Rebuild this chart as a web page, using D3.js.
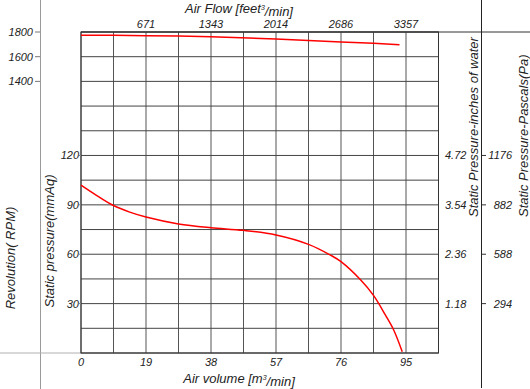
<!DOCTYPE html>
<html>
<head>
<meta charset="utf-8">
<script src="https://cdn.jsdelivr.net/npm/d3@7"></script>
<style>
  body { margin: 0; background: #fff; }
  svg { display: block; }
  text { font-family: "Liberation Sans", Arial, sans-serif; font-style: italic; fill: #222; }
</style>
</head>
<body>
<div id="chart"></div>
<script>
// air volume (m3/min) vs static pressure (mmAq)
var pressureCurve = [
  [0, 102], [4.75, 95.5], [9.5, 89.6], [14.25, 85.6], [19, 82.6], [28.5, 78.4],
  [38, 76.1], [47.5, 74.5], [57, 71.7], [66.5, 66], [72.9, 59.5], [76, 55.5],
  [81.7, 44.5], [85.5, 35], [89, 23], [91.4, 14], [93.9, 0.8]
];
// air volume (m3/min) vs revolution (RPM)
var rpmCurve = [
  [0, 1773], [9.5, 1773], [19, 1770], [28.5, 1768], [38, 1762], [57, 1743],
  [76, 1719], [85.5, 1708], [93.1, 1697]
];

var volumeTicks = [0, 19, 38, 57, 76, 95];
var flowLabels = ["671", "1343", "2014", "2686", "3357"];
var pressureTicks = [30, 60, 90, 120];
var inchLabels = ["1.18", "2.36", "3.54", "4.72"];
var pascalLabels = ["294", "588", "882", "1176"];
var rpmTicks = [1400, 1600, 1800];

var W = 530, H = 389;
var plotLeft = 81, plotRight = 438.5, plotTop = 32, plotBottom = 353;

var x = d3.scaleLinear().domain([0, 104.5]).range([plotLeft, plotRight]);
var y = d3.scaleLinear().domain([0, 195]).range([plotBottom, plotTop]);
var yRpm = d3.scaleLinear().domain([-800, 1800]).range([plotBottom, plotTop]);

var svg = d3.select("#chart").append("svg")
  .attr("width", W)
  .attr("height", H);

// outer guide lines
svg.append("line").attr("x1", 40.5).attr("x2", 40.5).attr("y1", 0).attr("y2", 389)
  .style("stroke", "#9a9a9a");
svg.append("line").attr("x1", 0).attr("x2", plotLeft).attr("y1", plotBottom).attr("y2", plotBottom)
  .style("stroke", "#b0b0b0");
svg.append("line").attr("x1", plotLeft).attr("x2", W).attr("y1", plotTop).attr("y2", plotTop)
  .style("stroke", "#333");
svg.append("line").attr("x1", 481.5).attr("x2", 481.5).attr("y1", 0).attr("y2", 388)
  .style("stroke", "#222");

// gridlines
var gridX = d3.range(0, 104.6, 9.5);
var gridY = d3.range(0, 195.1, 15);

svg.append("g").selectAll("line")
  .data(gridX)
  .enter().append("line")
  .attr("x1", function (d) { return x(d); })
  .attr("x2", function (d) { return x(d); })
  .attr("y1", plotTop).attr("y2", plotBottom)
  .style("stroke", "#555");

svg.append("g").selectAll("line")
  .data(gridY)
  .enter().append("line")
  .attr("x1", plotLeft).attr("x2", plotRight)
  .attr("y1", function (d) { return y(d); })
  .attr("y2", function (d) { return y(d); })
  .style("stroke", "#444");

svg.append("rect")
  .attr("x", plotLeft).attr("y", plotTop)
  .attr("width", plotRight - plotLeft).attr("height", plotBottom - plotTop)
  .style("fill", "none").style("stroke", "#333");

// bottom axis labels
svg.append("g").selectAll("text")
  .data(volumeTicks)
  .enter().append("text")
  .attr("x", function (d) { return x(d); })
  .attr("y", 366)
  .attr("text-anchor", "middle")
  .style("font-size", "11px")
  .text(function (d) { return d; });

// top axis labels (air flow)
svg.append("g").selectAll("text")
  .data(flowLabels)
  .enter().append("text")
  .attr("x", function (d, i) { return x(volumeTicks[i + 1]); })
  .attr("y", 28)
  .attr("text-anchor", "middle")
  .style("font-size", "11px")
  .text(function (d) { return d; });

// left pressure axis
var leftAxis = svg.append("g");
leftAxis.selectAll("line")
  .data(pressureTicks)
  .enter().append("line")
  .attr("x1", plotLeft - 2).attr("x2", plotLeft)
  .attr("y1", function (d) { return y(d); })
  .attr("y2", function (d) { return y(d); })
  .style("stroke", "#888");
leftAxis.selectAll("text")
  .data(pressureTicks)
  .enter().append("text")
  .attr("x", 79)
  .attr("y", function (d) { return y(d); })
  .attr("dy", "0.36em")
  .attr("text-anchor", "end")
  .style("font-size", "11px")
  .text(function (d) { return d; });

// rpm axis
var rpmAxis = svg.append("g");
rpmAxis.selectAll("line")
  .data(rpmTicks)
  .enter().append("line")
  .attr("x1", 35).attr("x2", 40)
  .attr("y1", function (d) { return yRpm(d); })
  .attr("y2", function (d) { return yRpm(d); })
  .style("stroke", "#777");
rpmAxis.selectAll("text")
  .data(rpmTicks)
  .enter().append("text")
  .attr("x", 33)
  .attr("y", function (d) { return yRpm(d); })
  .attr("dy", "0.36em")
  .attr("text-anchor", "end")
  .style("font-size", "11px")
  .text(function (d) { return d; });

// inches of water labels
svg.append("g").selectAll("text")
  .data(inchLabels)
  .enter().append("text")
  .attr("x", 445)
  .attr("y", function (d, i) { return y(pressureTicks[i]); })
  .attr("dy", "0.36em")
  .style("font-size", "11px")
  .text(function (d) { return d; });

// pascal axis
var paAxis = svg.append("g");
paAxis.selectAll("line")
  .data(pascalLabels)
  .enter().append("line")
  .attr("x1", 481.5).attr("x2", 486)
  .attr("y1", function (d, i) { return y(pressureTicks[i]); })
  .attr("y2", function (d, i) { return y(pressureTicks[i]); })
  .style("stroke", "#333");
paAxis.selectAll("text")
  .data(pascalLabels)
  .enter().append("text")
  .attr("x", 512)
  .attr("y", function (d, i) { return y(pressureTicks[i]); })
  .attr("dy", "0.36em")
  .attr("text-anchor", "end")
  .style("font-size", "11px")
  .text(function (d) { return d; });

// axis titles
var bt = svg.append("text")
  .attr("x", 239).attr("y", 383)
  .attr("text-anchor", "middle")
  .style("font-size", "13px");
bt.append("tspan").text("Air volume [m");
bt.append("tspan").attr("dy", "-0.5em").style("font-size", "7px").text("3");
bt.append("tspan").attr("dy", "0.5em").text("/min]");

var tt = svg.append("text")
  .attr("x", 239).attr("y", 13)
  .attr("text-anchor", "middle")
  .style("font-size", "13px");
tt.append("tspan").text("Air Flow [feet");
tt.append("tspan").attr("dy", "-0.5em").style("font-size", "7px").text("3");
tt.append("tspan").attr("dy", "0.5em").text("/min]");

svg.append("text")
  .attr("transform", "translate(54,241) rotate(-90)")
  .attr("text-anchor", "middle")
  .style("font-size", "13px")
  .text("Static pressure(mmAq)");

svg.append("text")
  .attr("transform", "translate(15,258) rotate(-90)")
  .attr("text-anchor", "middle")
  .style("font-size", "13px")
  .text("Revolution( RPM)");

svg.append("text")
  .attr("transform", "translate(478,217) rotate(-90)")
  .attr("text-anchor", "start")
  .style("font-size", "13px")
  .text("Static Pressure-inches of water");

svg.append("text")
  .attr("transform", "translate(528,217) rotate(-90)")
  .attr("text-anchor", "start")
  .style("font-size", "13px")
  .text("Static Pressure-Pascals(Pa)");

// curves
var pLine = d3.line()
  .x(function (d) { return x(d[0]); })
  .y(function (d) { return y(d[1]); })
  .curve(d3.curveCatmullRom.alpha(0.5));

svg.append("path")
  .datum(pressureCurve)
  .attr("d", pLine)
  .style("fill", "none")
  .style("stroke", "#ff0000")
  .style("stroke-width", 1.5);

var rLine = d3.line()
  .x(function (d) { return x(d[0]); })
  .y(function (d) { return yRpm(d[1]); });

svg.append("path")
  .datum(rpmCurve)
  .attr("d", rLine)
  .style("fill", "none")
  .style("stroke", "#ff0000")
  .style("stroke-width", 1.5);
</script>
</body>
</html>
